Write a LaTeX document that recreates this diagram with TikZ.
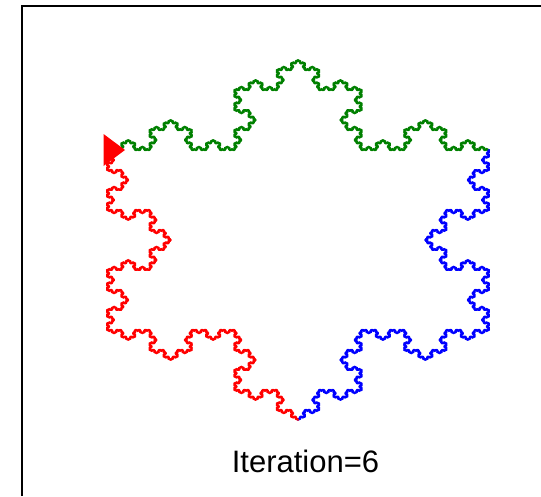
\documentclass[tikz,border=0pt]{standalone}
\usepackage{fontspec}
\setmainfont{Liberation Sans}
\definecolor{kochgreen}{RGB}{0,128,0}
\definecolor{kochblue}{RGB}{0,0,255}
\definecolor{kochred}{RGB}{255,0,0}

% Turtle state for the Koch curve: position, step length, segment counter
\newdimen\kochx \newdimen\kochy \newdimen\kochlen
\newcount\kochcnt

% one forward move of the turtle; heading #1 in multiples of 60 degrees
\def\kochforward#1{%
  \ifcase#1\relax
    \advance\kochx by \kochlen
  \or \advance\kochx by .5\kochlen \advance\kochy by .8660254\kochlen
  \or \advance\kochx by -.5\kochlen \advance\kochy by .8660254\kochlen
  \or \advance\kochx by -\kochlen
  \or \advance\kochx by -.5\kochlen \advance\kochy by -.8660254\kochlen
  \or \advance\kochx by .5\kochlen \advance\kochy by -.8660254\kochlen
  \fi
  \pgfpathlineto{\pgfqpoint{\kochx}{\kochy}}%
  \advance\kochcnt by 1
  \ifnum\kochcnt>255
    \pgfusepath{stroke}%
    \pgfpathmoveto{\pgfqpoint{\kochx}{\kochy}}%
    \kochcnt=0
  \fi}

% Koch curve of order #1 with heading #2:  F -> F + F - - F + F
\def\kochcurve#1#2{%
  \ifnum#1=0
    \kochforward{#2}%
  \else
    \edef\kochnext{\noexpand\kochsplit{\the\numexpr#1-1\relax}{#2}%
      {\ifnum#2=5 0\else\the\numexpr#2+1\relax\fi}%
      {\ifnum#2=0 5\else\the\numexpr#2-1\relax\fi}}%
    \expandafter\kochnext
  \fi}
\def\kochsplit#1#2#3#4{%
  \kochcurve{#1}{#2}\kochcurve{#1}{#3}\kochcurve{#1}{#4}\kochcurve{#1}{#2}}

% one side of the snowflake: colour, start x, start y, heading
\def\kochside#1#2#3#4{%
  \begin{pgfscope}
    \pgfsetstrokecolor{#1}%
    \pgfsetlinewidth{2pt}%
    \pgfsetroundjoin\pgfsetroundcap
    \kochx=#2\kochy=#3\kochcnt=0
    \pgfpathmoveto{\pgfqpoint{\kochx}{\kochy}}%
    \kochcurve{6}{#4}%
    \pgfusepath{stroke}%
  \end{pgfscope}}

\begin{document}
\begin{tikzpicture}[x=1pt,y=-1pt]
  \useasboundingbox (0,0) rectangle (541,496);
  \fill[white] (0,0) rectangle (541,496);

  % axes frame
  \draw[line width=2pt] (22,496) -- (22,5.5) -- (541,5.5);

  % snowflake, order 6
  \begin{pgfscope}
    \pgftransformshift{\pgfqpoint{107pt}{-150pt}}%
    \pgftransformyscale{0.816}%
    \kochlen=0.52401pt
    \kochside{kochgreen}{0pt}{0pt}{0}
    \kochside{kochblue}{382pt}{0pt}{4}
    \kochside{kochred}{191pt}{-330.822pt}{2}
  \end{pgfscope}

  % turtle
  \fill[kochred] (103.5,134) -- (125,150) -- (103.5,166) -- cycle;

  \node[font=\fontsize{31}{31}\selectfont, anchor=base, inner sep=0pt]
    (label) at (305.5,472) {Iteration=6};
\end{tikzpicture}
\end{document}
